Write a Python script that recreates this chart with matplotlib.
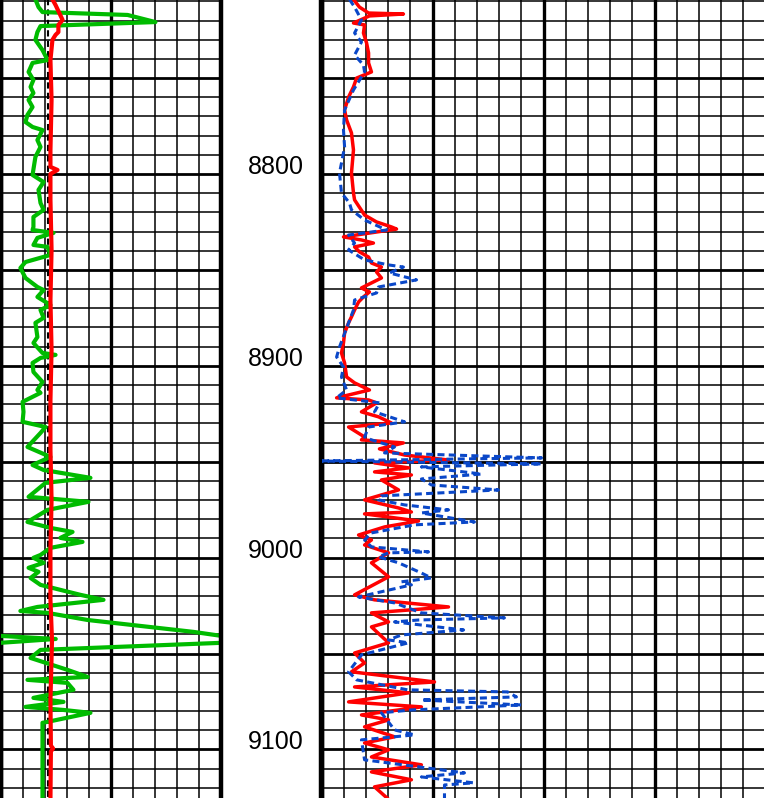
import numpy as np
import matplotlib
matplotlib.use("Agg")
import matplotlib.pyplot as plt

plt.rcParams['font.family'] = ['Liberation Sans', 'DejaVu Sans']

# depth window shown (ft)
top_depth = 8709.3
bottom_depth = 9125.3
depth_labels = [8800, 8900, 9000, 9100]

# left track: green curve (wraps with backup scale past 100)
gr_depth = [8709.0, 8713.0, 8715.6, 8717.1, 8720.8, 8722.9, 8726.0, 8730.1, 8735.4, 8740.6,
            8742.1, 8746.8, 8751.0, 8754.6, 8757.8, 8761.4, 8765.1, 8769.2, 8772.9, 8775.5,
            8777.1, 8782.3, 8785.9, 8791.1, 8800.5, 8804.2, 8808.3, 8815.1, 8818.7, 8822.4,
            8827.6, 8829.2, 8830.7, 8833.3, 8837.0, 8838.0, 8842.2, 8845.9, 8849.0, 8854.2,
            8858.9, 8860.5, 8864.1, 8868.3, 8870.9, 8875.0, 8877.6, 8885.0, 8888.1, 8893.3,
            8894.3, 8895.9, 8898.5, 8903.2, 8908.4, 8912.6, 8914.1, 8918.8, 8924.0, 8929.2,
            8931.9, 8935.0, 8942.3, 8947.5, 8951.7, 8954.3, 8958.4, 8961.0, 8968.3, 8970.9,
            8975.1, 8981.4, 8984.5, 8986.6, 8989.7, 8991.8, 8994.9, 8998.6, 9000.1, 9002.7,
            9005.3, 9007.4, 9010.6, 9014.2, 9016.8, 9019.4, 9022.0, 9025.7, 9027.8, 9028.8,
            9032.5, 9038.7, 9040.8, 9042.4, 9044.4, 9048.1, 9052.3, 9058.5, 9062.2, 9063.7,
            9065.3, 9068.9, 9073.1, 9075.2, 9077.8, 9079.4, 9080.9, 9085.6, 9086.1, 9126.0]
gr_value = [15.8, 17.2, 19.0, 57.5, 70.1, 18.1, 16.7, 15.8, 19.0, 21.3,
            14.5, 12.7, 14.9, 13.6, 14.9, 12.7, 14.5, 12.2, 11.3, 14.5,
            19.0, 16.7, 18.1, 15.8, 14.5, 19.5, 17.2, 18.1, 19.5, 14.9,
            14.9, 14.5, 24.0, 16.7, 14.9, 21.3, 22.6, 11.3, 9.0, 11.3,
            16.7, 19.5, 16.7, 22.6, 18.1, 19.5, 15.8, 16.7, 14.9, 19.0,
            24.9, 18.1, 14.5, 14.9, 19.0, 16.7, 18.1, 10.0, 10.4, 10.0,
            20.4, 18.1, 12.2, 22.6, 14.5, 19.5, 40.7, 20.4, 12.7, 39.8,
            21.3, 12.2, 22.6, 32.6, 27.1, 37.1, 22.6, 18.1, 14.9, 19.5,
            12.7, 17.2, 13.6, 18.1, 27.1, 36.2, 46.6, 16.7, 9.0, 21.3,
            39.4, 87.3, 100.0, 125.0, 100.0, 18.1, 13.6, 30.3, 39.4, 12.2,
            30.3, 33.0, 14.9, 28.5, 11.3, 28.5, 40.7, 21.3, 19.0, 19.0]

# left track: red curve
lred_depth = [8709.0, 8711.9, 8719.7, 8722.3, 8726.0, 8727.5, 8730.1, 8740.6, 8761.4, 8787.5,
              8796.3, 8797.9, 8800.0, 8813.5, 8839.6, 8865.7, 8891.7, 8917.8, 8943.8, 8969.9,
              8996.0, 9022.0, 9043.0, 9074.2, 9098.0, 9099.5, 9101.0, 9126.0]
lred_value = [23.5, 24.9, 28.1, 26.2, 26.2, 24.9, 23.5, 22.6, 23.1, 22.6,
              22.6, 25.8, 22.6, 22.6, 23.1, 22.6, 23.1, 22.6, 22.6, 23.1,
              22.6, 22.6, 23.3, 22.6, 22.8, 23.8, 22.8, 22.6]

# left track: black dashed curve
lblk_depth = [8709.0, 9126.0]
lblk_value = [21.5, 21.5]

# right track: red curve
rred_depth = [8709.0, 8713.0, 8716.1, 8716.6, 8717.6, 8721.3, 8722.3, 8726.5, 8731.7, 8736.9,
              8742.1, 8746.8, 8750.0, 8754.6, 8759.9, 8766.6, 8771.8, 8778.6, 8787.5, 8799.5,
              8809.9, 8813.5, 8821.4, 8825.0, 8827.6, 8828.7, 8832.8, 8834.4, 8836.0, 8838.0,
              8840.6, 8843.3, 8846.4, 8848.5, 8851.1, 8854.2, 8856.8, 8859.4, 8861.5, 8864.1,
              8866.7, 8870.9, 8874.5, 8877.6, 8882.9, 8888.1, 8893.3, 8898.5, 8905.8, 8908.9,
              8912.6, 8916.7, 8917.8, 8919.3, 8924.0, 8926.6, 8929.8, 8931.9, 8937.1, 8938.6,
              8940.2, 8943.3, 8946.5, 8949.1, 8950.6, 8953.2, 8955.3, 8956.9, 8959.5, 8964.7,
              8969.9, 8974.1, 8976.2, 8977.2, 8980.9, 8984.0, 8988.2, 8990.8, 8993.4, 8997.5,
              9002.7, 9010.0, 9019.4, 9022.0, 9025.7, 9028.8, 9033.5, 9036.1, 9044.4, 9049.7,
              9054.9, 9059.5, 9064.8, 9067.4, 9070.5, 9075.2, 9077.8, 9082.0, 9084.6, 9088.2,
              9093.4, 9096.6, 9100.2, 9103.9, 9108.0, 9111.7, 9115.8, 9119.5, 9126.0]
rred_value = [14.4, 17.1, 21.2, 36.9, 21.6, 14.4, 19.4, 18.9, 20.3, 21.2,
              21.2, 22.5, 15.8, 14.4, 12.2, 10.4, 11.3, 13.5, 14.4, 13.5,
              14.4, 14.9, 19.4, 24.8, 31.5, 33.8, 9.9, 18.0, 23.4, 14.9,
              17.1, 21.2, 22.5, 27.0, 24.8, 27.0, 22.5, 18.0, 21.6, 18.9,
              16.7, 14.9, 13.5, 12.2, 10.4, 9.9, 9.0, 10.4, 11.3, 14.9,
              21.6, 6.8, 21.2, 24.8, 18.0, 25.7, 31.5, 12.2, 19.4, 18.0,
              36.9, 26.1, 37.4, 57.2, 23.9, 39.2, 23.9, 40.5, 27.0, 34.7,
              19.4, 34.7, 40.5, 19.4, 43.7, 28.4, 16.7, 22.5, 19.4, 30.2,
              22.5, 30.2, 14.9, 23.9, 57.2, 22.5, 30.2, 22.5, 30.2, 14.9,
              19.4, 13.5, 50.9, 14.9, 39.2, 12.2, 45.0, 18.0, 30.2, 19.4,
              32.9, 19.4, 30.2, 22.5, 45.0, 22.5, 40.5, 23.9, 30.2]

# right track: blue dotted curve
rblu_depth = [8709.0, 8713.0, 8719.7, 8726.5, 8731.2, 8738.0, 8743.2, 8746.8, 8756.2, 8766.6,
              8777.1, 8785.9, 8794.3, 8799.5, 8809.9, 8815.1, 8818.7, 8824.0, 8829.2, 8831.8,
              8836.0, 8839.6, 8844.8, 8847.4, 8848.5, 8851.6, 8855.2, 8858.9, 8862.0, 8865.7,
              8870.9, 8877.6, 8890.2, 8895.4, 8900.6, 8905.8, 8912.6, 8916.7, 8919.3, 8924.0,
              8929.2, 8931.9, 8937.1, 8938.6, 8942.3, 8945.4, 8948.0, 8949.6, 8951.1, 8952.7,
              8956.4, 8959.0, 8962.1, 8964.7, 8967.8, 8969.9, 8972.5, 8975.1, 8976.7, 8981.4,
              8982.9, 8987.1, 8990.8, 8994.4, 8997.0, 8997.5, 8999.6, 9002.7, 9008.0, 9010.6,
              9012.6, 9014.2, 9020.5, 9023.6, 9028.8, 9031.4, 9032.5, 9033.5, 9037.7, 9040.3,
              9042.9, 9044.4, 9050.7, 9059.5, 9063.7, 9068.9, 9070.0, 9072.6, 9074.2, 9076.8,
              9079.4, 9080.9, 9089.8, 9092.4, 9095.0, 9105.4, 9112.2, 9114.3, 9117.4, 9118.5,
              9126.0]
rblu_value = [12.6, 14.9, 18.0, 14.9, 18.0, 14.9, 18.9, 19.4, 14.4, 10.4,
              9.9, 10.4, 9.0, 8.1, 9.0, 12.6, 13.5, 19.4, 29.3, 12.2,
              14.9, 12.2, 19.4, 30.2, 36.9, 30.6, 42.8, 25.7, 24.8, 14.9,
              14.4, 12.2, 8.1, 6.8, 9.9, 9.0, 11.3, 6.8, 26.1, 23.9,
              37.4, 21.2, 19.4, 22.5, 32.9, 28.4, 99.1, -2.0, 99.1, 45.0,
              72.1, 45.0, 49.5, 79.7, 27.0, 25.7, 37.4, 57.2, 45.0, 68.9,
              41.9, 22.5, 19.4, 22.5, 48.2, 30.2, 25.7, 34.7, 45.0, 49.5,
              36.0, 40.5, 16.7, 32.9, 45.0, 82.4, 43.7, 32.9, 64.0, 36.0,
              30.2, 39.2, 18.0, 12.2, 15.8, 38.7, 83.8, 87.8, 45.0, 90.1,
              40.5, 27.0, 32.9, 41.9, 18.0, 19.4, 64.4, 45.0, 68.5, 55.4,
              55.4]

W, H = 764, 798
fig = plt.figure(figsize=(W / 100, H / 100), dpi=100)
fig.patch.set_facecolor('white')

ax_l = fig.add_axes([0.5 / W, 0, 221.0 / W, 1])
ax_d = fig.add_axes([221.5 / W, 0, 100.0 / W, 1])
ax_r = fig.add_axes([321.5 / W, 0, 444.0 / W, 1])


def draw_grid(ax, xmax):
    for x in np.arange(0, xmax + 1, 10):
        thick = (x % 50 == 0)
        ax.axvline(x, color='black', lw=2.4 if thick else 1.1, zorder=1)
    for d in np.arange(8710, 9130, 10):
        thick = (d % 50 == 0)
        ax.axhline(d, color='black', lw=2.0 if thick else 1.1, zorder=1)


for ax, xmax in [(ax_l, 100), (ax_r, 200)]:
    ax.set_xlim(0, xmax)
    ax.set_ylim(bottom_depth, top_depth)
    draw_grid(ax, xmax)
    ax.set_xticks([])
    ax.set_yticks([])
    for s in ['top', 'bottom']:
        ax.spines[s].set_visible(False)
    for s in ['left', 'right']:
        ax.spines[s].set_linewidth(3.2)

# left track curves
gr = np.array(gr_value)
gr_wrap = np.where(gr >= 100, gr - 100, np.nan)
ax_l.plot(lblk_value, lblk_depth, color='black', lw=1.5, ls=(0, (3, 2)), zorder=2)
ax_l.plot(gr_value, gr_depth, color='#00bb00', lw=3.0, zorder=3)
ax_l.plot(gr_wrap, gr_depth, color='#00bb00', lw=3.0, zorder=3)
ax_l.plot(lred_value, lred_depth, color='#ff0000', lw=3.0, zorder=4)

# right track curves
ax_r.plot(rred_value, rred_depth, color='#ff0000', lw=2.5, zorder=3)
ax_r.plot(rblu_value, rblu_depth, color='#0a47c8', lw=2.2, ls=(0, (2.3, 1.4)), zorder=4)

# depth track
ax_d.set_xlim(0, 1)
ax_d.set_ylim(bottom_depth, top_depth)
ax_d.set_xticks([])
ax_d.set_yticks([])
for s in ['top', 'bottom']:
    ax_d.spines[s].set_visible(False)
for s in ['left', 'right']:
    ax_d.spines[s].set_linewidth(3.2)
for d in depth_labels:
    ax_d.text(0.545, d, str(d), ha='center', va='baseline', fontsize=18)

fig.savefig('out.png', dpi=100)
